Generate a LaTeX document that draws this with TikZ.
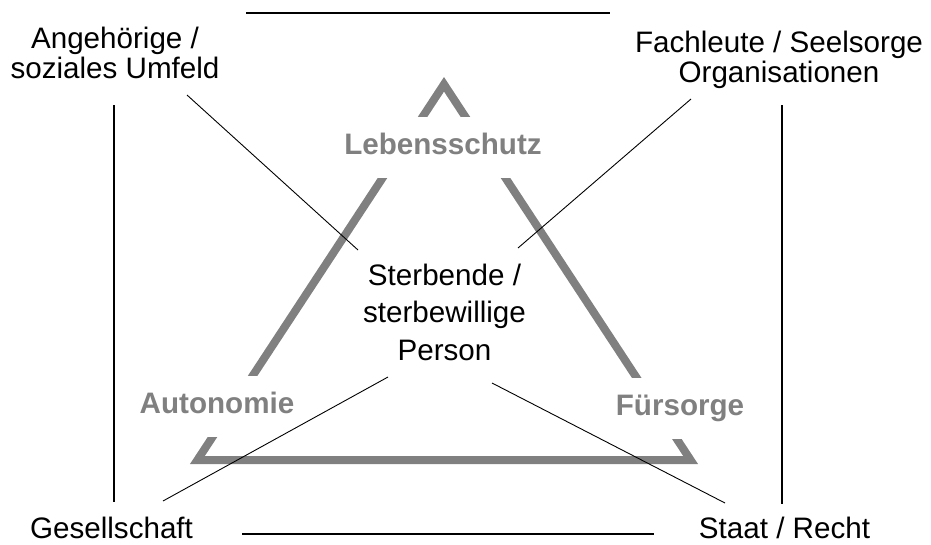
\documentclass[tikz,border=0pt]{standalone}
\usepackage{fontspec}
\setmainfont{Liberation Sans}
\usepackage{tikz}
\definecolor{valgray}{RGB}{128,128,128}
\tikzstyle{party} = [align=center, inner sep=0pt, font=\fontsize{29.6}{30.5}\selectfont]
\tikzstyle{value} = [fill=white, text=valgray, inner xsep=2pt, inner ysep=0pt,
	text height=37pt, text depth=24pt, font=\fontsize{29.6}{30}\selectfont\bfseries]
\tikzstyle{frame} = [line width=2pt]
\tikzstyle{link} = [line width=0.9pt]

\begin{document}
\begin{tikzpicture}[x=1pt, y=-1pt]
	\useasboundingbox (0,0) rectangle (931,544);
	
	% triangle of values
	\coordinate (top) at (444,84.3);
	\coordinate (bl) at (197.4,460);
	\coordinate (br) at (690.6,460);
	\draw[valgray, line width=8pt] (top) -- (bl) -- (br) -- cycle;
	
	\node[value, anchor=base] (leb) at (443,154) {Lebensschutz};
	\node[value, anchor=base] (aut) at (217,413) {Autonomie};
	\node[value, anchor=base] (fue) at (680,415) {Fürsorge};
	
	% actors
	\node[party, anchor=north, font=\fontsize{29.6}{37.5}\selectfont] (per) at (444.5,263.5) {Sterbende /\\sterbewillige\\Person};
	\node[party, anchor=north] (ang) at (115,26.5) {Angehörige /\\soziales Umfeld};
	\node[party, anchor=north] (fach) at (779,30.5) {Fachleute / Seelsorge\\Organisationen};
	\node[party, anchor=base] (ges) at (111.5,538) {Gesellschaft};
	\node[party, anchor=base] (sta) at (784.5,538.5) {Staat / Recht};
	
	% link ends
	\coordinate (ang-l) at (187,95);
	\coordinate (per-nw) at (358,250);
	\coordinate (fach-l) at (691,99);
	\coordinate (per-ne) at (518,248);
	\coordinate (ges-l) at (163,501);
	\coordinate (per-sw) at (388,377);
	\coordinate (sta-l) at (725,503);
	\coordinate (per-se) at (492,383);
	
	\draw[link] (ang-l) -- (per-nw);
	\draw[link] (fach-l) -- (per-ne);
	\draw[link] (ges-l) -- (per-sw);
	\draw[link] (sta-l) -- (per-se);
	
	% frame
	\coordinate (top-a) at (246,13);
	\coordinate (top-b) at (610,13);
	\coordinate (left-a) at (114,105);
	\coordinate (left-b) at (114,502);
	\coordinate (right-a) at (782,105);
	\coordinate (right-b) at (782,504);
	\coordinate (bot-a) at (242,533.5);
	\coordinate (bot-b) at (654,533.5);
	
	\draw[frame] (top-a) -- (top-b);
	\draw[frame] (left-a) -- (left-b);
	\draw[frame] (right-a) -- (right-b);
	\draw[frame] (bot-a) -- (bot-b);
\end{tikzpicture}
\end{document}
